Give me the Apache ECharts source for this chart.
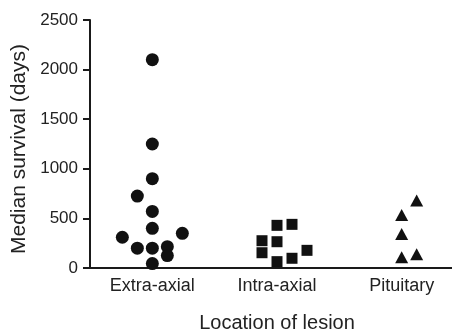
<!DOCTYPE html>
<html>
<head>
<meta charset="utf-8">
<script src="https://cdn.jsdelivr.net/npm/echarts@6/dist/echarts.min.js"></script>
<style>html,body{margin:0;padding:0;background:#fff}#c{width:452px;height:332px}</style>
</head>
<body>
<div id="c"></div>
<script>
var categories = ['Extra-axial', 'Intra-axial', 'Pituitary'];
var extraAxial = [2100, 1250, 900, 725, 570, 400, 310, 350, 200, 200, 215, 125, 45];
var intraAxial = [430, 440, 275, 265, 154, 178, 98, 64];
var pituitary = [680, 534, 343, 108, 138];
var yTicks = [0, 500, 1000, 1500, 2000, 2500];
var xTitle = 'Location of lesion';
var yTitle = 'Median survival (days)';

// horizontal scatter offsets (px) used to separate overlapping markers
var jitterExtra = [0, 0, 0, -15, 0, 0, -30, 30, -15, 0, 15, 15, 0];
var jitterIntra = [0, 15, -15, 0, -15, 30, 15, 0];
var jitterPit = [15, 0, 0, 0, 15];

function build(values, catIdx, jitter) {
  return values.map(function (v, i) {
    return { value: [categories[catIdx], v], symbolOffset: [jitter[i], 0] };
  });
}

var chart = echarts.init(document.getElementById('c'), null, { renderer: 'canvas' });
var font = 'Liberation Sans, Arial, Helvetica, sans-serif';
var axisColor = '#1a1a1a';
var textColor = '#222';
chart.setOption({
  animation: false,
  grid: { left: 90, top: 20, width: 374, height: 248, containLabel: false, outerBoundsMode: 'none' },
  xAxis: {
    type: 'category',
    data: categories,
    boundaryGap: true,
    name: xTitle,
    nameLocation: 'middle',
    nameGap: 45,
    nameTextStyle: { fontFamily: font, fontSize: 20, color: textColor },
    axisLine: { lineStyle: { color: axisColor, width: 2 } },
    axisTick: { alignWithLabel: true, length: 7, lineStyle: { color: axisColor, width: 2 } },
    axisLabel: { fontFamily: font, fontSize: 18, color: textColor, margin: 9 },
    splitLine: { show: false }
  },
  yAxis: {
    type: 'value',
    min: yTicks[0],
    max: yTicks[yTicks.length - 1],
    interval: yTicks[1] - yTicks[0],
    name: yTitle,
    nameLocation: 'middle',
    nameGap: 57,
    nameTextStyle: { fontFamily: font, fontSize: 21, color: textColor, padding: [0, 0, 0, -10] },
    axisLine: { show: true, lineStyle: { color: axisColor, width: 2 } },
    axisTick: { show: true, length: 7, lineStyle: { color: axisColor, width: 2 } },
    axisLabel: { fontFamily: font, fontSize: 17, color: textColor, margin: 12, formatter: function (v) { return String(v); } },
    splitLine: { show: false }
  },
  series: [
    { type: 'scatter', symbol: 'circle', symbolSize: 13, itemStyle: { color: '#111', opacity: 1 }, data: build(extraAxial, 0, jitterExtra) },
    { type: 'scatter', symbol: 'rect', symbolSize: 11, itemStyle: { color: '#111', opacity: 1 }, data: build(intraAxial, 1, jitterIntra) },
    { type: 'scatter', symbol: 'triangle', symbolSize: [13, 12], itemStyle: { color: '#111', opacity: 1 }, data: build(pituitary, 2, jitterPit) }
  ]
});
</script>
</body>
</html>
